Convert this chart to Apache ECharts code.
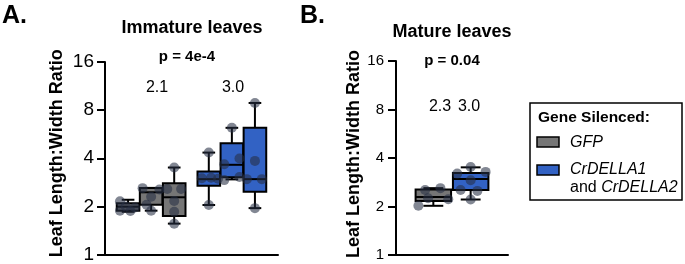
<!DOCTYPE html>
<html>
<head>
<meta charset="utf-8">
<style>
  html, body { margin: 0; padding: 0; background: #fff; }
  #chart { width: 685px; height: 264px; }
</style>
<script src="https://cdn.jsdelivr.net/npm/echarts@6/dist/echarts.min.js"></script>
</head>
<body>
<div id="chart"></div>
<script>
// y axis (log2)
const yTicks = [1, 2, 4, 8, 16]

// immature leaves, box stats: [min, q1, median, q3, max]
const immatureGfpBoxes = [
  [1.85, 1.88, 1.99, 2.09, 2.2],
  [1.88, 2.05, 2.45, 2.61, 2.61],
  [1.56, 1.74, 2.28, 2.79, 3.5]
]
const immatureDellaBoxes = [
  [2.04, 2.69, 2.96, 3.31, 4.34],
  [2.95, 3.04, 3.64, 4.96, 6.2],
  [1.95, 2.47, 2.96, 6.2, 8.87]
]
// individual points: [jitter within box, value]
const immatureGfpPoints = [
  [[-0.35, 2.15], [-0.35, 1.88], [0.1, 1.87], [0.3, 1.97], [-0.1, 2.0]],
  [[-0.37, 2.6], [0.36, 2.55], [0, 2.3], [0, 1.88], [-0.2, 2.05]],
  [[0, 3.5], [-0.3, 2.57], [0.3, 2.57], [0, 2.16], [0, 1.85], [0, 1.56]]
]
const immatureDellaPoints = [
  [[0, 4.34], [-0.3, 3.0], [0.1, 3.02], [0.4, 2.98], [0, 2.04]],
  [[0, 6.2], [0.33, 3.99], [-0.33, 3.67], [-0.33, 2.92], [0.33, 3.05]],
  [[0, 8.87], [0, 3.85], [-0.35, 2.96], [0.3, 2.96], [0, 1.95]]
]

// mature leaves
const matureGfpBox = [2.02, 2.16, 2.29, 2.55, 2.6]
const matureDellaBox = [2.21, 2.53, 2.96, 3.23, 3.5]
const matureGfpPoints = [[-0.22, 2.53], [0.19, 2.6], [-0.14, 2.25], [0.4, 2.22], [-0.4, 2.02]]
const matureDellaPoints = [[0, 3.52], [-0.36, 3.2], [0.4, 3.28], [0, 2.91], [-0.27, 2.53], [0.18, 2.5], [0, 2.21]]

// annotations
const immatureRatios = ['2.1', '3.0']
const matureRatios = ['2.3', '3.0']
const pValues = ['p = 4e-4', 'p = 0.04']
const panelTitles = ['Immature leaves', 'Mature leaves']
const yAxisTitle = 'Leaf Length:Width Ratio'

const FONT = '"Liberation Sans", Arial, Helvetica, sans-serif'
const GREY = '#767676'
const BLUE = '#3262c4'
const DOT = 'rgba(38, 46, 68, 0.72)'

function boxRenderer(boxWidth, color) {
  return function(params, api) {
    const x = api.value(0)
    const left = api.coord([x - boxWidth / 2, api.value(3)])[0]
    const right = api.coord([x + boxWidth / 2, api.value(3)])[0]
    const cx = (left + right) / 2
    const capHalf = (right - left) * 0.28
    const yMin = api.coord([x, api.value(1)])[1]
    const yQ1 = api.coord([x, api.value(2)])[1]
    const yMed = api.coord([x, api.value(3)])[1]
    const yQ3 = api.coord([x, api.value(4)])[1]
    const yMax = api.coord([x, api.value(5)])[1]
    const line = { stroke: '#000', lineWidth: 2 }
    return {
      type: 'group',
      children: [
        { type: 'line', shape: { x1: cx, y1: yMax, x2: cx, y2: yQ3 }, style: line },
        { type: 'line', shape: { x1: cx, y1: yQ1, x2: cx, y2: yMin }, style: line },
        { type: 'line', shape: { x1: cx - capHalf, y1: yMax, x2: cx + capHalf, y2: yMax }, style: line },
        { type: 'line', shape: { x1: cx - capHalf, y1: yMin, x2: cx + capHalf, y2: yMin }, style: line },
        { type: 'rect', shape: { x: left, y: yQ3, width: right - left, height: yQ1 - yQ3 },
          style: { fill: color, stroke: '#000', lineWidth: 2 } },
        { type: 'line', shape: { x1: left, y1: yMed, x2: right, y2: yMed }, style: line }
      ]
    }
  }
}

// x positions: boxes side by side, groups separated by half a box
function groupPos(groupIdx, boxIdx) {
  return groupIdx * 3.5 + boxIdx
}

function boxRows(boxes, groupIdx) {
  return boxes.map((b, i) => [groupPos(groupIdx, i)].concat(b))
}

function pointRows(points, groupIdx) {
  const rows = []
  points.forEach((pts, i) => {
    pts.forEach(p => rows.push([groupPos(groupIdx, i) + p[0], p[1]]))
  })
  return rows
}

function yAxisOpt(gridIndex, fontSize, margin, nameGap, namePad) {
  return {
    type: 'log',
    logBase: 2,
    gridIndex: gridIndex,
    min: yTicks[0],
    max: yTicks[yTicks.length - 1],
    name: yAxisTitle,
    nameLocation: 'middle',
    nameGap: nameGap,
    nameRotate: 90,
    nameTextStyle: { fontFamily: FONT, fontWeight: 'bold', fontSize: 18, color: '#000', padding: [0, 0, 0, namePad] },
    axisLine: { show: true, onZero: false, lineStyle: { color: '#000', width: 2 } },
    axisTick: { show: true, length: 8, lineStyle: { color: '#000', width: 2 } },
    axisLabel: { fontFamily: FONT, fontSize: fontSize, color: '#000', margin: margin },
    splitLine: { show: false },
    minorTick: { show: false }
  }
}

function xAxisOpt(gridIndex, min, max) {
  return {
    type: 'value',
    gridIndex: gridIndex,
    min: min,
    max: max,
    axisLine: { show: true, onZero: false, lineStyle: { color: '#000', width: 2 } },
    axisTick: { show: false },
    axisLabel: { show: false },
    splitLine: { show: false }
  }
}

function text(x, y, str, size, extra) {
  return {
    type: 'text',
    x: x,
    y: y,
    style: Object.assign({
      text: str,
      fontFamily: FONT,
      fontSize: size,
      fontWeight: 'normal',
      fill: '#000',
      align: 'center',
      verticalAlign: 'middle'
    }, extra || {})
  }
}

const chart = echarts.init(document.getElementById('chart'), null, { renderer: 'canvas' })

chart.setOption({
  animation: false,
  backgroundColor: '#fff',
  grid: [
    { left: 105, top: 62, width: 173, height: 194 },
    { left: 396, top: 61, width: 112, height: 194 }
  ],
  xAxis: [xAxisOpt(0, -1, 6.5), xAxisOpt(1, -1, 2)],
  yAxis: [yAxisOpt(0, 19, 11, 39, 10), yAxisOpt(1, 15, 12, 32, 8)],
  series: [
    {
      type: 'custom', xAxisIndex: 0, yAxisIndex: 0, z: 2,
      renderItem: boxRenderer(0.98, GREY),
      data: boxRows(immatureGfpBoxes, 0)
    },
    {
      type: 'custom', xAxisIndex: 0, yAxisIndex: 0, z: 2,
      renderItem: boxRenderer(0.98, BLUE),
      data: boxRows(immatureDellaBoxes, 1)
    },
    {
      type: 'scatter', xAxisIndex: 0, yAxisIndex: 0, z: 3,
      symbolSize: 10, itemStyle: { color: DOT },
      data: pointRows(immatureGfpPoints, 0).concat(pointRows(immatureDellaPoints, 1))
    },
    {
      type: 'custom', xAxisIndex: 1, yAxisIndex: 1, z: 2,
      renderItem: boxRenderer(0.95, GREY),
      data: [[0].concat(matureGfpBox)]
    },
    {
      type: 'custom', xAxisIndex: 1, yAxisIndex: 1, z: 2,
      renderItem: boxRenderer(0.95, BLUE),
      data: [[1].concat(matureDellaBox)]
    },
    {
      type: 'scatter', xAxisIndex: 1, yAxisIndex: 1, z: 3,
      symbolSize: 10, itemStyle: { color: DOT },
      data: matureGfpPoints.map(p => [p[0], p[1]]).concat(matureDellaPoints.map(p => [1 + p[0], p[1]]))
    }
  ],
  graphic: [
    text(2, 16, 'A.', 25, { fontWeight: 'bold', align: 'left' }),
    text(300, 16, 'B.', 25, { fontWeight: 'bold', align: 'left' }),
    text(192, 28, panelTitles[0], 18, { fontWeight: 'bold' }),
    text(452, 32, panelTitles[1], 18, { fontWeight: 'bold' }),
    text(187, 57, pValues[0], 15, { fontWeight: 'bold' }),
    text(452, 61, pValues[1], 15, { fontWeight: 'bold' }),
    text(157, 88, immatureRatios[0], 16),
    text(233, 88, immatureRatios[1], 16),
    text(440, 107, matureRatios[0], 16),
    text(469, 107, matureRatios[1], 16),
    // legend
    {
      type: 'rect',
      shape: { x: 530, y: 103, width: 152, height: 97 },
      style: { fill: '#fff', stroke: '#000', lineWidth: 1.5 }
    },
    text(538, 118, 'Gene Silenced:', 15.5, { fontWeight: 'bold', align: 'left' }),
    {
      type: 'rect',
      shape: { x: 537, y: 137, width: 22, height: 10 },
      style: { fill: GREY, stroke: '#000', lineWidth: 1.5 }
    },
    {
      type: 'rect',
      shape: { x: 537, y: 165, width: 22, height: 10 },
      style: { fill: BLUE, stroke: '#000', lineWidth: 1.5 }
    },
    text(570, 143, 'GFP', 16, { fontStyle: 'italic', align: 'left' }),
    text(570, 170, 'CrDELLA1', 16, { fontStyle: 'italic', align: 'left' }),
    text(570, 188, '{n|and }{i|CrDELLA2}', 16, {
      align: 'left',
      rich: {
        n: { fontFamily: FONT, fontSize: 16, fill: '#000' },
        i: { fontFamily: FONT, fontSize: 16, fontStyle: 'italic', fill: '#000' }
      }
    })
  ]
})
</script>
</body>
</html>
